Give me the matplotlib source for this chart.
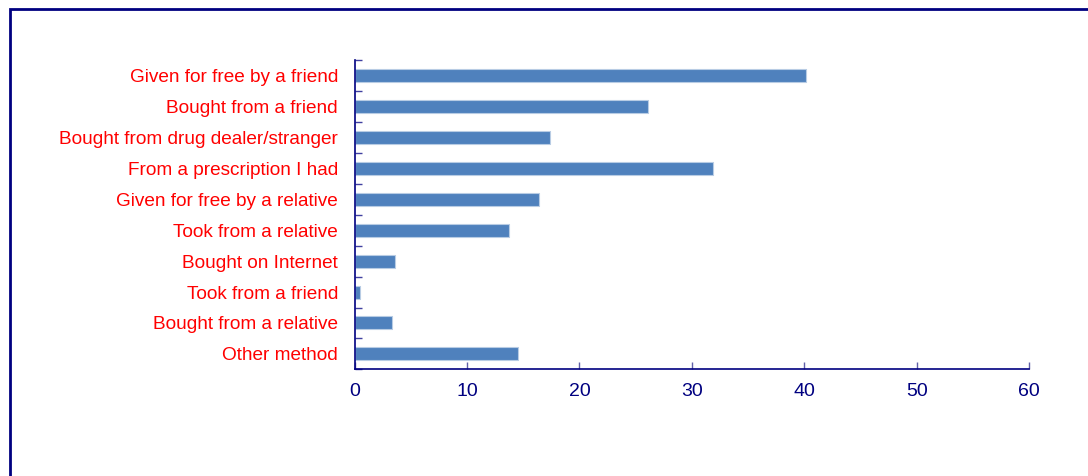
import matplotlib
matplotlib.use("Agg")
import matplotlib.pyplot as plt
from matplotlib.patches import Rectangle
import numpy as np

# ---------- dados ----------
categorias = [
    "Given for free by a friend",
    "Bought from a friend",
    "Bought from drug dealer/stranger",
    "From a prescription I had",
    "Given for free by a relative",
    "Took from a relative",
    "Bought on Internet",
    "Took from a friend",
    "Bought from a relative",
    "Other method",
]
valores = [40.2, 26.1, 17.4, 31.9, 16.4, 13.7, 3.6, 0.5, 3.3, 14.5]
xticks = [0, 10, 20, 30, 40, 50, 60]

NAVY = "#000080"
BAR = "#4F81BD"

plt.rcParams["font.family"] = ["Liberation Sans", "DejaVu Sans"]

W, H = 1088, 476
fig = plt.figure(figsize=(W / 100, H / 100), dpi=100)

# moldura (só topo e esquerda aparecem)
fig.patches.append(Rectangle((9.5 / W, -0.1), 1.2, (H - 8.5) / H + 0.1,
                             transform=fig.transFigure, fill=False,
                             edgecolor=NAVY, lw=2, zorder=0))

ax = fig.add_axes([354.7 / W, 1 - 369.3 / H, (1029 - 354.7) / W, (369.3 - 60.3) / H])

y = np.arange(len(categorias))
ax.barh(y, valores, height=0.42, color=BAR, edgecolor="#B8CCE4", linewidth=0.8, zorder=2)

ax.set_xlim(0, 60)
ax.set_ylim(len(categorias) - 0.5, -0.5)
ax.set_xticks(xticks)
ax.set_xticklabels([str(t) for t in xticks])

ax.set_yticks(y)
ax.set_yticklabels(categorias)
ax.set_yticks(np.arange(len(categorias) + 1) - 0.5, minor=True)

ax.tick_params(axis="y", which="major", length=0, pad=12, labelsize=13.7, labelcolor="red")
ax.tick_params(axis="y", which="minor", direction="in", length=5, width=1, color="#4040A0")
ax.tick_params(axis="x", which="major", direction="in", length=5, width=1, color="#6060A8",
               pad=10, labelsize=14, labelcolor=NAVY)

for s in ["top", "right"]:
    ax.spines[s].set_visible(False)
for s in ["left", "bottom"]:
    ax.spines[s].set_color(NAVY)
    ax.spines[s].set_linewidth(1.2)

fig.savefig("out.png", dpi=100)
